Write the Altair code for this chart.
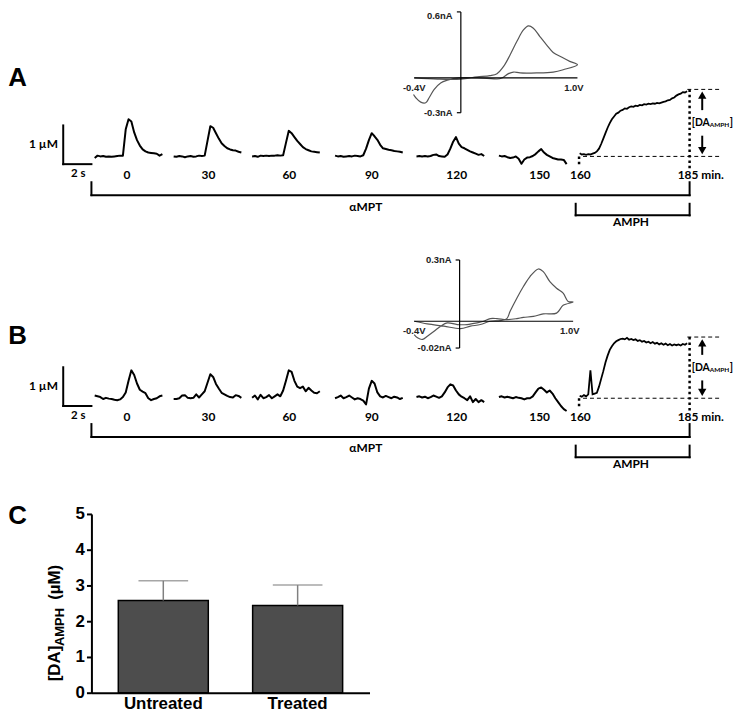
import altair as alt
import pandas as pd

# ------------------------------------------------------------------ data
TIME_LABELS = ["0", "30", "60", "90", "120", "150"]
DT_S = 0.2  # seconds between samples of the phasic traces

A_0 = [-0.04, 0.02, 0.0, 0.01, -0.01, 0.0, -0.01, 0.0, 0.01, 0.02, 0.02, 0.7, 0.96, 0.9, 0.62,
       0.42, 0.28, 0.18, 0.13, 0.1, 0.09, 0.08, 0.07, 0.02, 0.06]
A_30 = [0.0, -0.01, 0.01, 0.0, -0.02, 0.0, 0.01, -0.01, 0.0, 0.02, 0.01, 0.02, 0.4, 0.78, 0.74,
        0.6, 0.46, 0.34, 0.27, 0.21, 0.18, 0.16, 0.15, 0.12, 0.1]
A_60 = [0.0, 0.01, -0.01, 0.02, 0.01, 0.02, 0.01, 0.02, 0.02, 0.03, 0.02, 0.03, 0.35, 0.66, 0.6,
        0.5, 0.4, 0.32, 0.24, 0.19, 0.16, 0.13, 0.12, 0.11, 0.1]
A_90 = [0.02, 0.0, 0.01, -0.01, 0.0, 0.01, 0.0, 0.02, 0.01, 0.0, 0.03, 0.2, 0.42, 0.6, 0.52,
        0.43, 0.3, 0.21, 0.19, 0.17, 0.16, 0.14, 0.13, 0.12, 0.1]
A_120 = [0.0, 0.01, 0.0, 0.01, 0.0, 0.01, 0.04, 0.05, 0.01, 0.0, -0.01, 0.05, 0.2, 0.38, 0.5,
         0.33, 0.24, 0.21, 0.17, 0.13, 0.1, 0.07, 0.04, 0.06, 0.01]
A_150 = [0.02, 0.0, 0.01, -0.02, -0.04, -0.03, 0.0, -0.06, -0.19, -0.08, -0.03, -0.02, 0.01, 0.06, 0.13,
         0.19, 0.1, 0.04, 0.0, -0.04, -0.06, -0.08, -0.08, -0.09, -0.2]

B_0 = [0.07, 0.05, 0.03, -0.02, 0.01, -0.01, -0.02, -0.04, -0.05, -0.03, 0.03, 0.15, 0.45, 0.72, 0.6,
       0.38, 0.22, 0.17, 0.13, 0.0, -0.05, -0.02, 0.0, 0.05, 0.07]
B_30 = [-0.02, -0.02, 0.0, 0.07, 0.08, 0.01, 0.0, 0.01, 0.1, 0.02, 0.1, 0.18, 0.4, 0.62, 0.55,
        0.37, 0.25, 0.14, 0.1, 0.06, 0.03, 0.02, 0.08, 0.06, 0.01]
B_60 = [0.01, 0.07, -0.03, 0.09, 0.0, 0.03, 0.08, 0.0, 0.05, 0.1, 0.05, 0.2, 0.45, 0.72, 0.68,
        0.45, 0.3, 0.26, 0.3, 0.18, 0.27, 0.2, 0.14, 0.13, 0.18]
B_90 = [0.0, 0.03, 0.07, 0.0, 0.03, 0.07, 0.02, -0.03, 0.0, -0.02, -0.06, -0.16, 0.25, 0.45, 0.38,
        0.15, 0.05, 0.02, 0.06, 0.03, 0.0, 0.04, 0.02, -0.02, 0.01]
B_120 = [0.03, 0.05, 0.02, 0.04, 0.0, 0.03, 0.07, 0.04, 0.01, 0.05, 0.15, 0.28, 0.36, 0.33, 0.2,
         0.1, 0.04, 0.0, -0.05, 0.05, -0.1, -0.02, -0.1, -0.05, -0.1]
B_150 = [0.03, 0.05, 0.02, 0.04, 0.02, 0.0, 0.03, 0.01, 0.0, -0.03, 0.0, 0.0, 0.05, 0.15, 0.25,
         0.28, 0.22, 0.15, 0.2, 0.12, 0.0, -0.1, -0.2, -0.28, -0.33]

A_PHASIC = [A_0, A_30, A_60, A_90, A_120, A_150]
B_PHASIC = [B_0, B_30, B_60, B_90, B_120, B_150]

AMPH_START_MIN = 160
AMPH_END_MIN = 185
AMPH_STEP_MIN = 0.5
A_AMPH = [0.08, 0.05, 0.06, 0.04, 0.06, 0.05, 0.07, 0.09, 0.13, 0.2, 0.32, 0.46, 0.6, 0.74, 0.86,
          0.96, 1.03, 1.1, 1.13, 1.18, 1.2, 1.24, 1.23, 1.27, 1.29, 1.28, 1.31, 1.3, 1.33, 1.32,
          1.35, 1.34, 1.36, 1.35, 1.37, 1.36, 1.38, 1.37, 1.39, 1.41, 1.42, 1.45, 1.46, 1.5, 1.52,
          1.57, 1.6, 1.62, 1.66, 1.65, 1.68]
B_AMPH = [0.06, 0.04, 0.08, 0.05, 0.1, 0.72, 0.1, 0.12, 0.14, 0.3, 0.5, 0.7, 0.92, 1.1, 1.25,
          1.34, 1.42, 1.47, 1.5, 1.53, 1.54, 1.52, 1.56, 1.51, 1.53, 1.5, 1.52, 1.48, 1.5, 1.46,
          1.48, 1.44, 1.46, 1.42, 1.45, 1.41, 1.43, 1.39, 1.42, 1.38, 1.41, 1.37, 1.4, 1.36, 1.39,
          1.37, 1.39, 1.36, 1.4, 1.38, 1.42]

# cyclic voltammograms (potential in V, current in nA), in scan order
A_CV_V = [-0.4, -0.2, 0.0, 0.14, 0.25, 0.31, 0.367, 0.423, 0.48, 0.537, 0.58, 0.622, 0.678, 0.735,
          0.792, 0.863, 0.934, 1.0,
          0.878, 0.792, 0.65, 0.508, 0.452, 0.409, 0.352, 0.31, 0.224, 0.139, -0.017, -0.116,
          -0.173, -0.23, -0.272, -0.301, -0.344, -0.386, -0.406]
A_CV_NA = [0.0, -0.01, -0.01, 0.009, 0.02, 0.037, 0.1, 0.2, 0.314, 0.414, 0.449, 0.429, 0.357, 0.286,
           0.22, 0.18, 0.143, 0.114,
           0.071, 0.051, 0.043, 0.043, 0.051, 0.037, 0.0, -0.009, -0.003, 0.0, 0.0, -0.02,
           -0.043, -0.1, -0.171, -0.214, -0.209, -0.171, -0.143]
B_CV_V = [-0.4, -0.284, -0.138, 0.008, 0.095, 0.183, 0.27, 0.358, 0.416, 0.445, 0.504, 0.562, 0.62,
          0.694, 0.737, 0.795, 0.854, 0.912, 0.956, 1.0,
          0.912, 0.854, 0.737, 0.65, 0.562, 0.504, 0.416, 0.329, 0.27, 0.212, 0.154, 0.066, -0.021,
          -0.109, -0.167, -0.225, -0.284, -0.327, -0.371, -0.4]
B_CV_NA = [0.0, -0.013, -0.024, -0.036, -0.024, -0.016, 0.0, 0.003, 0.013, 0.049, 0.113, 0.17, 0.219,
           0.256, 0.243, 0.194, 0.162, 0.138, 0.097, 0.094,
           0.078, 0.04, 0.036, 0.024, 0.019, 0.013, 0.008, 0.013, 0.013, 0.0, -0.008, -0.016, -0.016,
           -0.008, -0.024, -0.049, -0.073, -0.089, -0.081, -0.065]

C_GROUPS = ["Untreated", "Treated"]
C_MEAN = [2.58, 2.44]
C_SEM = [0.55, 0.57]

# ------------------------------------------------------------------ layout
LATO = "Lato"
SANS = "Liberation Sans"
PAGE_LEFT = 8          # left edge of the drawing on the page
PANEL_LEFT = 91.7      # page x of the plot origin shared by all panels
PANEL_RIGHT = 738
PANEL_W = PANEL_RIGHT - PANEL_LEFT
LEFT_EDGE = PAGE_LEFT - PANEL_LEFT   # group x of the page's left edge
PX_PER_S = 14.2
T0_PX = 63.3
PX_PER_UM = 39.0

TRACE_START_S = [2.232, 7.831, 13.394, 19.275, 25.049, 30.894]
LABEL_T = [4.528, 10.296, 16.035, 21.880, 27.901, 33.782]
AMPH_T = (36.62, 44.24)
T160 = 36.577
T185 = 44.415
T_ARROW = 45.31


def lin_domain(anchor_px, anchor_val, px_per_unit, px_lo, px_hi, up=False):
    if up:
        return [anchor_val - (px_hi - anchor_px) / px_per_unit,
                anchor_val + (anchor_px - px_lo) / px_per_unit]
    return [anchor_val + (px_lo - anchor_px) / px_per_unit,
            anchor_val + (px_hi - anchor_px) / px_per_unit]


def make_panel(p):
    tdom = lin_domain(T0_PX, 0.0, PX_PER_S, PANEL_LEFT, PANEL_RIGHT)
    cdom = lin_domain(p["base_px"], 0.0, PX_PER_UM, p["top_px"], p["top_px"] + p["height"], up=True)
    tx = alt.Scale(domain=tdom, nice=False, zero=False)
    cy = alt.Scale(domain=cdom, nice=False, zero=False)

    def X(f):
        return alt.X(f, type="quantitative", scale=tx, axis=None)

    def Y(f):
        return alt.Y(f, type="quantitative", scale=cy, axis=None)

    rows = []
    for i, vals in enumerate(p["phasic"]):
        for k, v in enumerate(vals):
            rows.append({"t": TRACE_START_S[i] + k * DT_S, "c": v, "trace": TIME_LABELS[i]})
    phasic = alt.Chart(pd.DataFrame(rows)).mark_line(
        color="black", strokeWidth=2, strokeJoin="round"
    ).encode(x=X("t"), y=Y("c"), detail="trace:N")

    n = len(p["amph"])
    span = AMPH_T[1] - AMPH_T[0]
    mins = [AMPH_START_MIN + k * AMPH_STEP_MIN for k in range(n)]
    amph_df = pd.DataFrame({
        "t": [AMPH_T[0] + (m - AMPH_START_MIN) / (AMPH_END_MIN - AMPH_START_MIN) * span for m in mins],
        "c": p["amph"],
    })
    amph = alt.Chart(amph_df).mark_line(color="black", strokeWidth=1.8).encode(x=X("t"), y=Y("c"))

    top = p["amph_top"]
    lab_c = top / 2
    solid = pd.DataFrame([
        dict(t=0, t2=0, c=-0.2, c2=0.8),
        dict(t=0, t2=2, c=-0.2, c2=-0.2),
        dict(t=2.0, t2=T185, c=-1.0, c2=-1.0),
        dict(t=2.0, t2=2.0, c=-0.667, c2=-1.0),
        dict(t=T185, t2=T185, c=-0.667, c2=-1.0),
        dict(t=36.338, t2=T185, c=-1.521, c2=-1.521),
        dict(t=36.338, t2=36.338, c=-1.223, c2=-1.521),
        dict(t=T185, t2=T185, c=-1.223, c2=-1.521),
    ])
    rules = alt.Chart(solid).mark_rule(color="black", strokeWidth=2, strokeCap="square").encode(
        x=X("t"), x2="t2", y=Y("c"), y2="c2")

    arrow_df = pd.DataFrame([
        dict(t=T_ARROW, t2=T_ARROW, c=lab_c + 0.33, c2=top - 0.18),
        dict(t=T_ARROW, t2=T_ARROW, c=0.18, c2=lab_c - 0.33),
    ])
    arrow = alt.Chart(arrow_df).mark_rule(color="black", strokeWidth=2).encode(
        x=X("t"), x2="t2", y=Y("c"), y2="c2")
    heads_df = pd.DataFrame([
        dict(t=T_ARROW, c=top - 0.15, s="triangle-up"),
        dict(t=T_ARROW, c=0.15, s="triangle-down"),
    ])
    heads = alt.Chart(heads_df).mark_point(filled=True, size=70, color="black", opacity=1).encode(
        x=X("t"), y=Y("c"), shape=alt.Shape("s:N", scale=None))

    dashed_df = pd.DataFrame([
        dict(t=36.859, t2=46.599, c=0.0, c2=0.0),
        dict(t=44.254, t2=46.599, c=top, c2=top),
    ])
    dashed = alt.Chart(dashed_df).mark_rule(color="black", strokeWidth=1, strokeDash=[4, 3]).encode(
        x=X("t"), x2="t2", y=Y("c"), y2="c2")
    dotted_df = pd.DataFrame([
        dict(t=T160, t2=T160, c=0.0, c2=-0.282),
        dict(t=T185, t2=T185, c=top, c2=-0.326),
    ])
    dotted = alt.Chart(dotted_df).mark_rule(color="black", strokeWidth=2.5, strokeDash=[2.5, 3]).encode(
        x=X("t"), x2="t2", y=Y("c"), y2="c2")

    def texts(df, **kw):
        style = dict(font=LATO, fontWeight="bold", color="black", baseline="middle")
        style.update(kw)
        return alt.Chart(df).mark_text(**style).encode(x=X("t"), y=Y("c"), text="label:N")

    centre_df = pd.DataFrame({
        "t": LABEL_T + [36.669, 21.458, 40.261],
        "c": [-0.474] * 6 + [-0.49, -1.295, -1.705],
        "label": TIME_LABELS + ["160", "αMPT", "AMPH"],
    })
    t_centre = texts(centre_df, fontSize=12, align="center")
    t_min = texts(pd.DataFrame({"t": [43.57], "c": [-0.49], "label": ["185 min."]}), fontSize=12, align="left")
    t_um = texts(pd.DataFrame({"t": [-0.373], "c": [0.315], "label": ["1 µM"]}), fontSize=12, align="right")
    t_s = texts(pd.DataFrame({"t": [1.07], "c": [-0.454], "label": ["2 s"]}), fontSize=11.5, align="center")
    t_da = texts(pd.DataFrame({"t": [44.56, 47.26], "c": [lab_c, lab_c], "label": ["[DA", "]"]}),
                 fontSize=10.5, align="left")
    t_sub = texts(pd.DataFrame({"t": [45.84], "c": [lab_c - 0.064], "label": ["AMPH"]}),
                  fontSize=6.5, align="left")

    letter = alt.Chart(pd.DataFrame({"label": [p["letter"]]})).mark_text(
        font=SANS, fontWeight="bold", fontSize=26, align="left", baseline="middle", color="black"
    ).encode(x=alt.value(LEFT_EDGE), y=alt.value(p["letter_y"]), text="label:N")

    trace_layer = alt.layer(phasic, amph, rules, arrow, heads, dashed, dotted,
                            t_centre, t_min, t_um, t_s, t_da, t_sub, letter)

    # ---- inset voltammogram, on scales of its own
    vdom = lin_domain(416.7, -0.4, p["cv_px_per_v"], PANEL_LEFT, PANEL_RIGHT)
    ndom = lin_domain(p["cv_zero_px"], 0.0, p["cv_px_per_na"], p["top_px"], p["top_px"] + p["height"], up=True)
    vx = alt.Scale(domain=vdom, nice=False, zero=False)
    ny = alt.Scale(domain=ndom, nice=False, zero=False)

    def VX(f):
        return alt.X(f, type="quantitative", scale=vx, axis=None)

    def NY(f):
        return alt.Y(f, type="quantitative", scale=ny, axis=None)

    cv_df = pd.DataFrame({"v": p["cv_v"], "n": p["cv_na"], "k": list(range(len(p["cv_v"])))})
    cv = alt.Chart(cv_df).mark_line(color="#555555", strokeWidth=1.2, interpolate="catmull-rom").encode(
        x=VX("v"), y=NY("n"), order="k:Q")
    tick = 4 / p["cv_px_per_v"]
    ax_df = pd.DataFrame([
        dict(v=-0.4, v2=1.0, n=0.0, n2=0.0),
        dict(v=0.0, v2=0.0, n=p["cv_bot"], n2=p["cv_top"]),
        dict(v=-tick, v2=0.0, n=p["cv_top"], n2=p["cv_top"]),
        dict(v=-tick, v2=0.0, n=p["cv_bot"], n2=p["cv_bot"]),
    ])
    cv_axes = alt.Chart(ax_df).mark_rule(color="black", strokeWidth=1.2).encode(
        x=VX("v"), x2="v2", y=NY("n"), y2="n2")
    below = -10 / p["cv_px_per_na"]

    def cv_texts(df, **kw):
        style = dict(font=SANS, fontWeight="bold", fontSize=9.5, color="#222222", baseline="middle")
        style.update(kw)
        return alt.Chart(df).mark_text(**style).encode(x=VX("v"), y=NY("n"), text="label:N")

    cv_lab_r = cv_texts(pd.DataFrame({
        "v": [-0.07, -0.07], "n": [p["cv_top_label_n"], p["cv_bot"]],
        "label": [p["cv_top_label"], p["cv_bot_label"]]}), align="right")
    cv_lab_c = cv_texts(pd.DataFrame({
        "v": [-0.4, 0.97], "n": [below, below], "label": ["-0.4V", "1.0V"]}), align="center")
    inset_layer = alt.layer(cv, cv_axes, cv_lab_r, cv_lab_c)

    return alt.layer(inset_layer, trace_layer).resolve_scale(
        x="independent", y="independent").properties(width=PANEL_W, height=p["height"])


PANEL_A = dict(letter="A", letter_y=67, top_px=8, height=245, base_px=154.0,
               phasic=A_PHASIC, amph=A_AMPH, amph_top=1.73,
               cv_v=A_CV_V, cv_na=A_CV_NA, cv_zero_px=75.0, cv_px_per_na=116.67, cv_px_per_v=117.4,
               cv_top=0.57, cv_top_label="0.6nA", cv_top_label_n=0.531,
               cv_bot=-0.3, cv_bot_label="-0.3nA")
PANEL_B = dict(letter="B", letter_y=82, top_px=253, height=250, base_px=397.5,
               phasic=B_PHASIC, amph=B_AMPH, amph_top=1.58,
               cv_v=B_CV_V, cv_na=B_CV_NA, cv_zero_px=320.0, cv_px_per_na=205.7, cv_px_per_v=114.3,
               cv_top=0.3, cv_top_label="0.3nA", cv_top_label_n=0.3,
               cv_bot=-0.131, cv_bot_label="-0.02nA")

panel_a = make_panel(PANEL_A)
panel_b = make_panel(PANEL_B)

# ------------------------------------------------------------------ panel C
dfC = pd.DataFrame({"group": C_GROUPS, "mean": C_MEAN,
                    "upper": [m + s for m, s in zip(C_MEAN, C_SEM)]})
xC = alt.X("group:N", sort=C_GROUPS,
           scale=alt.Scale(paddingInner=0.33, paddingOuter=0.2),
           axis=alt.Axis(title=None, labelAngle=0, labelFont=SANS, labelFontSize=17,
                         labelFontWeight="bold", labelColor="black", domainColor="black",
                         domainWidth=2, ticks=False, labelPadding=3))
y_axis = alt.Axis(title=None, values=[0, 1, 2, 3, 4, 5], grid=False, labelFont=SANS,
                  labelFontSize=17, labelFontWeight="bold", labelColor="black",
                  domainColor="black", domainWidth=2, tickColor="black", tickWidth=2,
                  tickSize=5, labelPadding=2, format="d")
y_scale = alt.Scale(domain=[0, 5], nice=False)

bars = alt.Chart(dfC).mark_bar(color="#4d4d4d", stroke="black", strokeWidth=1.5).encode(
    x=xC, y=alt.Y("mean:Q", scale=y_scale, axis=y_axis))
err = alt.Chart(dfC).mark_rule(color="#808080", strokeWidth=1.5).encode(
    x=xC, y=alt.Y("mean:Q", scale=y_scale, axis=y_axis), y2="upper:Q")
cap = alt.Chart(dfC).mark_tick(color="#808080", thickness=1.5, size=50).encode(
    x=xC, y=alt.Y("upper:Q", scale=y_scale, axis=y_axis))

one = pd.DataFrame({"k": [0]})


def side_text(label, x, y, size, angle=None, align="left"):
    kw = dict(font=SANS, fontWeight="bold", fontSize=size, color="black", align=align, baseline="middle",
              text=label)
    if angle is not None:
        kw["angle"] = angle
    return alt.Chart(one).mark_text(**kw).encode(x=alt.value(x), y=alt.value(y))


title_da = side_text("[DA]", -36.7, 168.5, 17, angle=270)
title_sub = side_text("AMPH", -31.7, 133.0, 13, angle=270)
title_um = side_text("(µM)", -36.7, 86.5, 17, angle=270)
letter_c = side_text("C", LEFT_EDGE, 2, 26)

panel_c = alt.layer(bars, err, cap, title_da, title_sub, title_um, letter_c).properties(
    width=280, height=180)

chart = alt.vconcat(panel_a, panel_b, panel_c, spacing=0).properties(
    padding=0, background="white"
).configure_view(stroke=None)

chart.save("out.html", embed_options={"renderer": "svg", "actions": False})
